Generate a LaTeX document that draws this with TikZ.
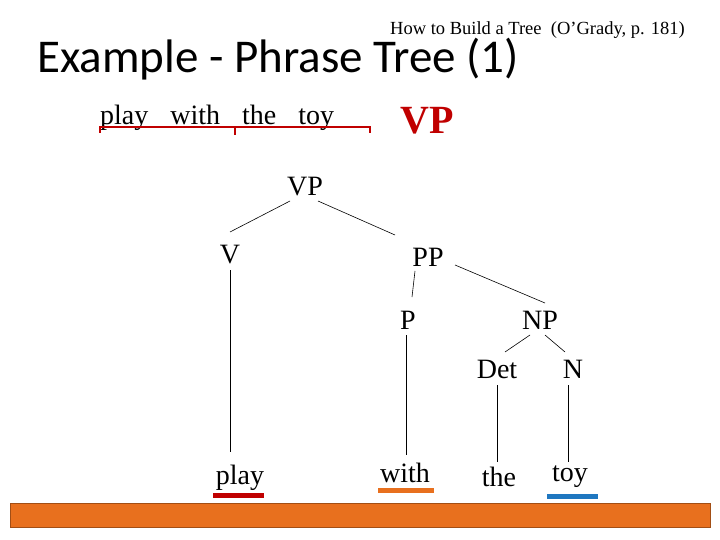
\documentclass[tikz,border=0pt]{standalone}
\usepackage{fontspec}
\setmainfont{Liberation Serif}
\newfontfamily\titlefont{Carlito}
\definecolor{dred}{HTML}{C00000}
\definecolor{orng}{HTML}{E8701E}
\definecolor{blu}{HTML}{1F77C0}
\begin{document}
\begin{tikzpicture}[x=1pt,y=-1pt,
  lbl/.style={inner sep=0pt,font=\fontsize{28}{28}\selectfont},
  edge/.style={draw,line width=0.6pt},
  ul/.style={line width=5pt}]
\useasboundingbox (0,0) rectangle (720,540);
\fill[orng] (10,503) rectangle (710,527);
\draw[orng!70!black,line width=0.5pt] (10,503) rectangle (710,527);
\node[anchor=base west,inner sep=0pt,font=\titlefont\fontsize{47}{47}\selectfont] (title) at (37,73) {Example - Phrase Tree (1)};
\node[anchor=base west,inner sep=0pt,font=\fontsize{18.5}{18.5}\selectfont] (src) at (390,35) {How to Build a Tree\ \ (O'Grady, p. 181)};
\node[anchor=base west,inner sep=0pt,font=\fontsize{28}{28}\selectfont] (phr) at (100,125) {play\hspace{22pt}with\hspace{22pt}the\hspace{22pt}toy};
\draw[dred,line width=2pt] (100,133) -- (100,127) -- (370,127) -- (370,133);
\draw[dred,line width=2pt] (235,127) -- (235,135);
\node[anchor=base west,inner sep=0pt,text=dred,font=\bfseries\fontsize{40}{40}\selectfont] (bigvp) at (400,134) {VP};
\node[lbl] (vp) at (305,187) {VP};
\node[lbl] (v) at (230,255) {V};
\node[lbl] (pp) at (428,257) {PP};
\node[lbl] (p) at (408,320) {P};
\node[lbl] (np) at (540,320) {NP};
\node[lbl] (det) at (497,369) {Det};
\node[lbl] (n) at (573,369) {N};
\node[lbl] (play) at (240,478) {play};
\node[lbl] (with) at (405,473) {with};
\node[lbl] (the) at (499,477) {the};
\node[lbl] (toy) at (570,477) {toy};
\coordinate (a1) at (290,201); \coordinate (a2) at (230,232);
\coordinate (b1) at (318,201); \coordinate (b2) at (395,235);
\draw[edge] (a1) -- (a2); \draw[edge] (b1) -- (b2);
\draw[edge] (230,270) -- (230,452);
\draw[edge] (415,271) -- (412,297);
\draw[edge] (455,265) -- (545,303);
\draw[edge] (406,335) -- (406,455);
\draw[edge] (530,335) -- (505,352);
\draw[edge] (545,335) -- (565,352);
\draw[edge] (497,385) -- (497,462);
\draw[edge] (568,385) -- (568,462);
\draw[ul,dred] (213,495) -- (264,495);
\draw[ul,orng] (378,490) -- (434,490);
\draw[ul,blu] (547,496) -- (598,496);
\end{tikzpicture}
\end{document}
